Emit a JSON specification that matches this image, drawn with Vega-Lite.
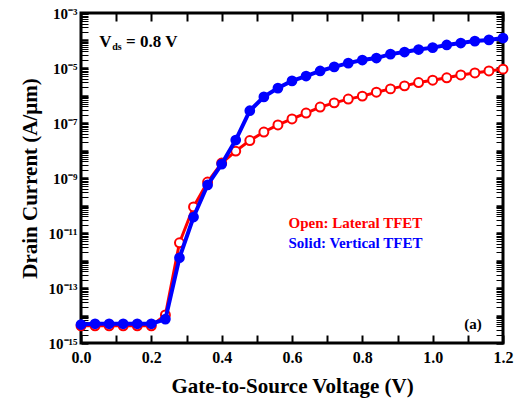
{
  "$schema": "https://vega.github.io/schema/vega-lite/v6.json",
  "width": 422,
  "height": 330,
  "autosize": "none",
  "padding": {"left": 81, "top": 13, "right": 14, "bottom": 57},
  "background": "white",
  "config": {
    "view": {"stroke": "black", "strokeWidth": 3},
    "font": "Liberation Serif",
    "axis": {
      "grid": false,
      "domain": false,
      "tickColor": "black",
      "tickWidth": 2,
      "labelFont": "Liberation Serif",
      "labelFontWeight": "bold",
      "labelFontSize": 16,
      "labelColor": "black",
      "titleFont": "Liberation Serif",
      "titleFontWeight": "bold",
      "titleFontSize": 21,
      "titleColor": "black"
    }
  },
  "datasets": {
    "curves": [
      {"device": "Lateral", "vgs": 0.00, "id": 4.2e-15},
      {"device": "Lateral", "vgs": 0.04, "id": 4.2e-15},
      {"device": "Lateral", "vgs": 0.08, "id": 4.2e-15},
      {"device": "Lateral", "vgs": 0.12, "id": 4.2e-15},
      {"device": "Lateral", "vgs": 0.16, "id": 4.2e-15},
      {"device": "Lateral", "vgs": 0.20, "id": 4.2e-15},
      {"device": "Lateral", "vgs": 0.24, "id": 1.05e-14},
      {"device": "Lateral", "vgs": 0.28, "id": 4.4e-12},
      {"device": "Lateral", "vgs": 0.32, "id": 8.9e-11},
      {"device": "Lateral", "vgs": 0.36, "id": 7.1e-10},
      {"device": "Lateral", "vgs": 0.40, "id": 3.5e-9},
      {"device": "Lateral", "vgs": 0.44, "id": 9.5e-9},
      {"device": "Lateral", "vgs": 0.48, "id": 2.3e-8},
      {"device": "Lateral", "vgs": 0.52, "id": 4.7e-8},
      {"device": "Lateral", "vgs": 0.56, "id": 8.5e-8},
      {"device": "Lateral", "vgs": 0.60, "id": 1.4e-7},
      {"device": "Lateral", "vgs": 0.64, "id": 2.3e-7},
      {"device": "Lateral", "vgs": 0.68, "id": 3.8e-7},
      {"device": "Lateral", "vgs": 0.72, "id": 5.4e-7},
      {"device": "Lateral", "vgs": 0.76, "id": 7.4e-7},
      {"device": "Lateral", "vgs": 0.80, "id": 9.5e-7},
      {"device": "Lateral", "vgs": 0.84, "id": 1.32e-6},
      {"device": "Lateral", "vgs": 0.88, "id": 1.74e-6},
      {"device": "Lateral", "vgs": 0.92, "id": 2.24e-6},
      {"device": "Lateral", "vgs": 0.96, "id": 2.95e-6},
      {"device": "Lateral", "vgs": 1.00, "id": 3.6e-6},
      {"device": "Lateral", "vgs": 1.04, "id": 4.4e-6},
      {"device": "Lateral", "vgs": 1.08, "id": 5.6e-6},
      {"device": "Lateral", "vgs": 1.12, "id": 6.6e-6},
      {"device": "Lateral", "vgs": 1.16, "id": 7.8e-6},
      {"device": "Lateral", "vgs": 1.20, "id": 9.1e-6},
      {"device": "Vertical", "vgs": 0.00, "id": 4.7e-15},
      {"device": "Vertical", "vgs": 0.04, "id": 5.0e-15},
      {"device": "Vertical", "vgs": 0.08, "id": 5.0e-15},
      {"device": "Vertical", "vgs": 0.12, "id": 5.0e-15},
      {"device": "Vertical", "vgs": 0.16, "id": 5.0e-15},
      {"device": "Vertical", "vgs": 0.20, "id": 5.0e-15},
      {"device": "Vertical", "vgs": 0.24, "id": 7.4e-15},
      {"device": "Vertical", "vgs": 0.28, "id": 1.26e-12},
      {"device": "Vertical", "vgs": 0.32, "id": 3.8e-11},
      {"device": "Vertical", "vgs": 0.36, "id": 5.6e-10},
      {"device": "Vertical", "vgs": 0.40, "id": 3.2e-9},
      {"device": "Vertical", "vgs": 0.44, "id": 2.4e-8},
      {"device": "Vertical", "vgs": 0.48, "id": 2.8e-7},
      {"device": "Vertical", "vgs": 0.52, "id": 8.9e-7},
      {"device": "Vertical", "vgs": 0.56, "id": 1.86e-6},
      {"device": "Vertical", "vgs": 0.60, "id": 3.4e-6},
      {"device": "Vertical", "vgs": 0.64, "id": 5.1e-6},
      {"device": "Vertical", "vgs": 0.68, "id": 7.8e-6},
      {"device": "Vertical", "vgs": 0.72, "id": 1.1e-5},
      {"device": "Vertical", "vgs": 0.76, "id": 1.5e-5},
      {"device": "Vertical", "vgs": 0.80, "id": 1.95e-5},
      {"device": "Vertical", "vgs": 0.84, "id": 2.3e-5},
      {"device": "Vertical", "vgs": 0.88, "id": 3.2e-5},
      {"device": "Vertical", "vgs": 0.92, "id": 3.8e-5},
      {"device": "Vertical", "vgs": 0.96, "id": 4.7e-5},
      {"device": "Vertical", "vgs": 1.00, "id": 5.5e-5},
      {"device": "Vertical", "vgs": 1.04, "id": 6.9e-5},
      {"device": "Vertical", "vgs": 1.08, "id": 8.1e-5},
      {"device": "Vertical", "vgs": 1.12, "id": 9.5e-5},
      {"device": "Vertical", "vgs": 1.16, "id": 1.05e-4},
      {"device": "Vertical", "vgs": 1.20, "id": 1.23e-4}
    ],
    "notes": [
      {"kind": "black", "text": "V", "vgs": 0.052, "id": 8.8e-5, "size": 17},
      {"kind": "black", "text": "ds", "vgs": 0.089, "id": 6.0e-5, "size": 10},
      {"kind": "black", "text": "= 0.8 V", "vgs": 0.128, "id": 8.8e-5, "size": 17},
      {"kind": "black", "text": "(a)", "vgs": 1.09, "id": 4.9e-15, "size": 15},
      {"kind": "red", "text": "Open: Lateral TFET", "vgs": 0.59, "id": 2.3e-11, "size": 15},
      {"kind": "blue", "text": "Solid: Vertical TFET", "vgs": 0.59, "id": 4.4e-12, "size": 15}
    ]
  },
  "resolve": {"axis": {"x": "independent", "y": "independent"}},
  "layer": [
    {
      "data": {"name": "curves"},
      "transform": [{"filter": "datum.device === 'Lateral'"}],
      "mark": {"type": "line", "color": "#ff0000", "strokeWidth": 3},
      "encoding": {
        "x": {
          "field": "vgs", "type": "quantitative",
          "scale": {"domain": [0, 1.2], "nice": false, "zero": false, "padding": 0},
          "axis": {
            "orient": "bottom",
            "title": "Gate-to-Source Voltage (V)",
            "titlePadding": 10,
            "values": [0, 0.1, 0.2, 0.3, 0.4, 0.5, 0.6, 0.7, 0.8, 0.9, 1.0, 1.1, 1.2],
            "labelExpr": "round(datum.value*10) % 2 == 0 ? format(datum.value, '.1f') : ''",
            "tickSize": -8,
            "labelPadding": 14,
            "labelFlush": false
          }
        },
        "y": {
          "field": "id", "type": "quantitative",
          "scale": {"type": "log", "domain": [1e-15, 1e-3], "nice": false, "padding": 0},
          "axis": {
            "orient": "left",
            "title": "Drain Current (A/μm)",
            "titlePadding": 8,
            "values": [1e-15,2e-15,3e-15,4e-15,5e-15,6e-15,7e-15,8e-15,9e-15,
                       1e-14,2e-14,3e-14,4e-14,5e-14,6e-14,7e-14,8e-14,9e-14,
                       1e-13,2e-13,3e-13,4e-13,5e-13,6e-13,7e-13,8e-13,9e-13,
                       1e-12,2e-12,3e-12,4e-12,5e-12,6e-12,7e-12,8e-12,9e-12,
                       1e-11,2e-11,3e-11,4e-11,5e-11,6e-11,7e-11,8e-11,9e-11,
                       1e-10,2e-10,3e-10,4e-10,5e-10,6e-10,7e-10,8e-10,9e-10,
                       1e-9,2e-9,3e-9,4e-9,5e-9,6e-9,7e-9,8e-9,9e-9,
                       1e-8,2e-8,3e-8,4e-8,5e-8,6e-8,7e-8,8e-8,9e-8,
                       1e-7,2e-7,3e-7,4e-7,5e-7,6e-7,7e-7,8e-7,9e-7,
                       1e-6,2e-6,3e-6,4e-6,5e-6,6e-6,7e-6,8e-6,9e-6,
                       1e-5,2e-5,3e-5,4e-5,5e-5,6e-5,7e-5,8e-5,9e-5,
                       1e-4,2e-4,3e-4,4e-4,5e-4,6e-4,7e-4,8e-4,9e-4,1e-3],
            "labelExpr": "abs(datum.value / pow(10, round(log(datum.value)/LN10)) - 1) > 0.000001 ? '' : (round(log(datum.value)/LN10) == -3 ? '10⁻³' : round(log(datum.value)/LN10) == -5 ? '10⁻⁵' : round(log(datum.value)/LN10) == -7 ? '10⁻⁷' : round(log(datum.value)/LN10) == -9 ? '10⁻⁹' : round(log(datum.value)/LN10) == -11 ? '10⁻¹¹' : round(log(datum.value)/LN10) == -13 ? '10⁻¹³' : round(log(datum.value)/LN10) == -15 ? '10⁻¹⁵' : '')",
            "tickSize": -7,
            "tickWidth": {"condition": {"test": "abs(datum.value / pow(10, round(log(datum.value)/LN10)) - 1) < 0.000001", "value": 2.5}, "value": 1},
            "labelPadding": 11,
            "labelFontSize": 15
          }
        }
      }
    },
    {
      "data": {"name": "curves"},
      "transform": [{"filter": "datum.device === 'Lateral'"}],
      "mark": {"type": "point", "shape": "circle", "filled": true, "fill": "white", "stroke": "#ff0000", "strokeWidth": 2, "size": 80, "opacity": 1},
      "encoding": {
        "x": {
          "field": "vgs", "type": "quantitative",
          "axis": {
            "orient": "top", "title": null, "labels": false,
            "values": [0, 0.1, 0.2, 0.3, 0.4, 0.5, 0.6, 0.7, 0.8, 0.9, 1.0, 1.1, 1.2],
            "tickSize": -8
          }
        },
        "y": {
          "field": "id", "type": "quantitative",
          "axis": {
            "orient": "right", "title": null, "labels": false,
            "values": [1e-15,2e-15,3e-15,4e-15,5e-15,6e-15,7e-15,8e-15,9e-15,
                       1e-14,2e-14,3e-14,4e-14,5e-14,6e-14,7e-14,8e-14,9e-14,
                       1e-13,2e-13,3e-13,4e-13,5e-13,6e-13,7e-13,8e-13,9e-13,
                       1e-12,2e-12,3e-12,4e-12,5e-12,6e-12,7e-12,8e-12,9e-12,
                       1e-11,2e-11,3e-11,4e-11,5e-11,6e-11,7e-11,8e-11,9e-11,
                       1e-10,2e-10,3e-10,4e-10,5e-10,6e-10,7e-10,8e-10,9e-10,
                       1e-9,2e-9,3e-9,4e-9,5e-9,6e-9,7e-9,8e-9,9e-9,
                       1e-8,2e-8,3e-8,4e-8,5e-8,6e-8,7e-8,8e-8,9e-8,
                       1e-7,2e-7,3e-7,4e-7,5e-7,6e-7,7e-7,8e-7,9e-7,
                       1e-6,2e-6,3e-6,4e-6,5e-6,6e-6,7e-6,8e-6,9e-6,
                       1e-5,2e-5,3e-5,4e-5,5e-5,6e-5,7e-5,8e-5,9e-5,
                       1e-4,2e-4,3e-4,4e-4,5e-4,6e-4,7e-4,8e-4,9e-4,1e-3],
            "tickSize": -7,
            "tickWidth": {"condition": {"test": "abs(datum.value / pow(10, round(log(datum.value)/LN10)) - 1) < 0.000001", "value": 2.5}, "value": 1}
          }
        }
      }
    },
    {
      "data": {"name": "curves"},
      "transform": [{"filter": "datum.device === 'Vertical'"}],
      "mark": {"type": "line", "color": "#0000ff", "strokeWidth": 4},
      "encoding": {
        "x": {"field": "vgs", "type": "quantitative", "axis": null},
        "y": {"field": "id", "type": "quantitative", "axis": null}
      }
    },
    {
      "data": {"name": "curves"},
      "transform": [{"filter": "datum.device === 'Vertical'"}],
      "mark": {"type": "point", "shape": "circle", "filled": true, "color": "#0000ff", "size": 115, "opacity": 1},
      "encoding": {
        "x": {"field": "vgs", "type": "quantitative", "axis": null},
        "y": {"field": "id", "type": "quantitative", "axis": null}
      }
    },
    {
      "data": {"name": "notes"},
      "transform": [{"filter": "datum.kind === 'black'"}],
      "mark": {"type": "text", "align": "left", "baseline": "middle", "font": "Liberation Serif", "fontWeight": "bold", "color": "black"},
      "encoding": {
        "x": {"field": "vgs", "type": "quantitative", "axis": null},
        "y": {"field": "id", "type": "quantitative", "axis": null},
        "text": {"field": "text"},
        "size": {"field": "size", "type": "quantitative", "scale": null}
      }
    },
    {
      "data": {"name": "notes"},
      "transform": [{"filter": "datum.kind === 'red'"}],
      "mark": {"type": "text", "align": "left", "baseline": "middle", "font": "Liberation Serif", "fontWeight": "bold", "color": "#ff0000"},
      "encoding": {
        "x": {"field": "vgs", "type": "quantitative", "axis": null},
        "y": {"field": "id", "type": "quantitative", "axis": null},
        "text": {"field": "text"},
        "size": {"field": "size", "type": "quantitative", "scale": null}
      }
    },
    {
      "data": {"name": "notes"},
      "transform": [{"filter": "datum.kind === 'blue'"}],
      "mark": {"type": "text", "align": "left", "baseline": "middle", "font": "Liberation Serif", "fontWeight": "bold", "color": "#0000ff"},
      "encoding": {
        "x": {"field": "vgs", "type": "quantitative", "axis": null},
        "y": {"field": "id", "type": "quantitative", "axis": null},
        "text": {"field": "text"},
        "size": {"field": "size", "type": "quantitative", "scale": null}
      }
    }
  ]
}
